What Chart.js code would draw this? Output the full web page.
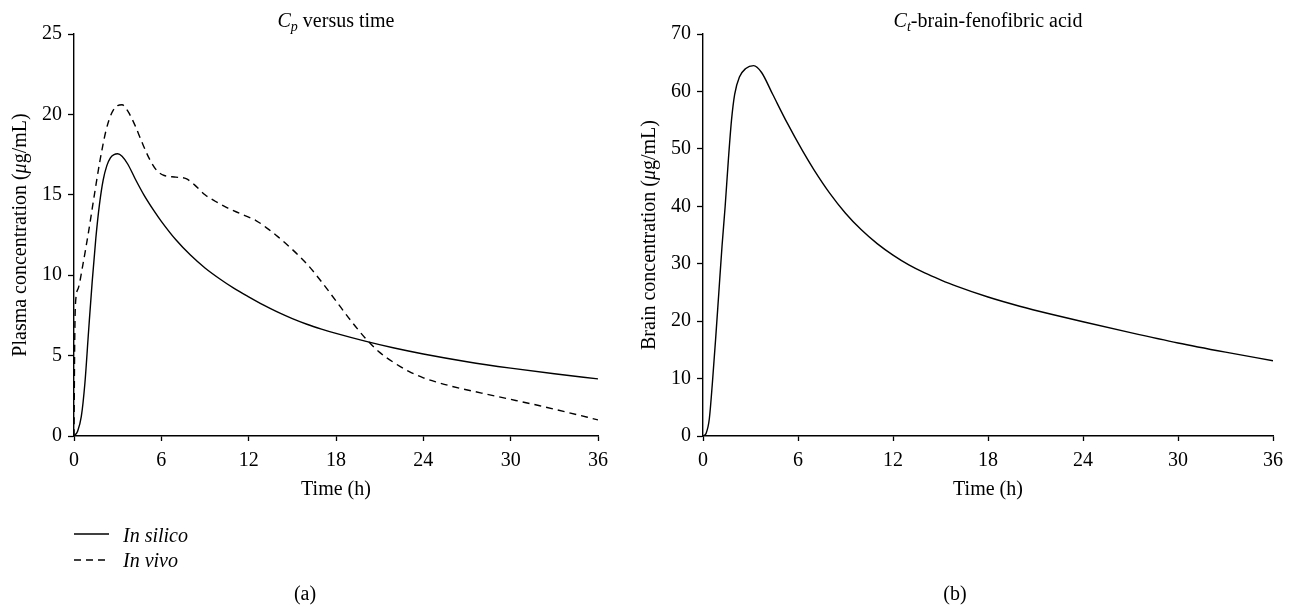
<!DOCTYPE html>
<html>
<head>
<meta charset="utf-8">
<script src="https://cdn.jsdelivr.net/npm/chart.js@4.4.1/dist/chart.umd.min.js"></script>
<style>
  html, body { margin:0; padding:0; background:#fff; }
  body { width:1297px; height:607px; position:relative; overflow:hidden; font-family:"Liberation Serif", serif; color:#000; }
  canvas { position:absolute; top:0; }
  .t { position:absolute; white-space:nowrap; font-size:20px; line-height:24px; transform:translate(-50%,-50%); }
  .rot { transform:translate(-50%,-50%) rotate(-90deg); }
  sub { font-size:70%; vertical-align:-0.3em; line-height:0; }
</style>
</head>
<body>
<canvas id="c1" width="630" height="607" style="left:0px"></canvas>
<canvas id="c2" width="667" height="607" style="left:630px"></canvas>

<div class="t" style="left:336px; top:20px;"><i>C</i><sub><i>p</i></sub> versus time</div>
<div class="t" style="left:988px; top:20px;"><i>C</i><sub><i>t</i></sub>-brain-fenofibric acid</div>
<div class="t rot" style="left:19px; top:235px;">Plasma concentration (<i>μ</i>g/mL)</div>
<div class="t rot" style="left:648px; top:235px;">Brain concentration (<i>μ</i>g/mL)</div>

<svg style="position:absolute; left:0; top:0;" width="200" height="607">
  <line x1="74" y1="534" x2="109" y2="534" stroke="#000" stroke-width="1.3"/>
  <line x1="74" y1="560" x2="109" y2="560" stroke="#000" stroke-width="1.3" stroke-dasharray="7,5"/>
</svg>
<div class="t" style="left:123px; top:535px; transform:translate(0,-50%);"><i>In silico</i></div>
<div class="t" style="left:123px; top:560px; transform:translate(0,-50%);"><i>In vivo</i></div>

<div class="t" style="left:305px; top:593px;">(a)</div>
<div class="t" style="left:955px; top:593px;">(b)</div>

<script>
// ---- data ----
const timeTicks = [0, 6, 12, 18, 24, 30, 36];
const plasmaTicks = [0, 5, 10, 15, 20, 25];
const brainTicks = [0, 10, 20, 30, 40, 50, 60, 70];

const silicoTime = [0, 0.25, 0.5, 0.75, 1.0, 1.25, 1.5, 1.75, 2.0, 2.25, 2.5, 2.75, 3.0, 3.3, 3.7, 4.2, 4.8, 5.5, 6.0, 7.0, 8.0, 9.0, 10.0, 11.0, 12.0, 13.0, 14.0, 15.0, 16.0, 17.0, 18.0, 20.0, 22.0, 24.0, 27.0, 30.0, 33.0, 36.0];
const silicoConc = [0, 0.3, 1.2, 3.3, 6.5, 9.6, 12.3, 14.4, 15.9, 16.8, 17.3, 17.5, 17.55, 17.4, 16.9, 16.0, 15.0, 14.0, 13.35, 12.2, 11.25, 10.45, 9.78, 9.18, 8.65, 8.15, 7.7, 7.3, 6.95, 6.65, 6.38, 5.9, 5.47, 5.1, 4.62, 4.22, 3.87, 3.55];

const vivoTime = [0, 0.05, 0.1, 0.3, 0.6, 1.0, 1.4, 1.8, 2.2, 2.6, 3.0, 3.3, 3.7, 4.2, 4.7, 5.2, 5.7, 6.2, 7.0, 7.7, 8.3, 9.0, 9.7, 10.5, 11.5, 12.5, 13.3, 14.0, 15.0, 16.0, 17.0, 18.0, 19.0, 20.0, 21.0, 22.0, 23.0, 24.0, 25.0, 26.0, 28.0, 30.0, 32.0, 34.0, 36.0];
const vivoConc = [0, 6.0, 8.2, 9.2, 10.6, 12.7, 15.0, 17.2, 19.0, 20.1, 20.55, 20.6, 20.2, 19.3, 18.2, 17.2, 16.5, 16.2, 16.1, 16.0, 15.6, 15.0, 14.6, 14.2, 13.8, 13.4, 12.9, 12.4, 11.6, 10.7, 9.6, 8.4, 7.2, 6.1, 5.2, 4.55, 4.02, 3.62, 3.33, 3.08, 2.67, 2.28, 1.88, 1.45, 1.0];

const brainTime = [0, 0.2, 0.4, 0.6, 0.8, 1.0, 1.2, 1.4, 1.6, 1.8, 2.0, 2.3, 2.7, 3.2, 3.7, 4.4, 5.3, 6.3, 7.0, 8.0, 9.0, 10.0, 11.0, 12.0, 13.0, 14.0, 15.0, 16.0, 18.0, 20.0, 22.0, 24.0, 27.0, 30.0, 33.0, 36.0];
const brainConc = [0, 0.5, 3.0, 9.5, 17.0, 25.0, 33.0, 40.0, 48.0, 55.0, 59.5, 62.5, 64.0, 64.5, 63.3, 59.5, 54.6, 49.6, 46.4, 42.3, 38.8, 35.9, 33.5, 31.5, 29.8, 28.4, 27.2, 26.1, 24.2, 22.6, 21.2, 19.9, 18.0, 16.2, 14.6, 13.1];

// ---- helpers ----
const pts = (xs, ys) => xs.map((x, i) => ({ x, y: ys[i] }));
const FONT = { family: "'Liberation Serif', serif", size: 20 };

function makeScales(yTicks, yWidth) {
  return {
    x: {
      type: 'linear', min: timeTicks[0], max: timeTicks[timeTicks.length - 1],
      afterBuildTicks: s => { s.ticks = timeTicks.map(v => ({ value: v })); },
      afterFit: s => { s.height = 74; },
      border: { display: true, color: '#000', width: 1.4 },
      grid: { display: true, drawOnChartArea: false, drawTicks: true, tickLength: 5, tickColor: '#000', tickWidth: 1.3 },
      ticks: { color: '#000', font: FONT, padding: 8, maxRotation: 0 },
      title: { display: true, text: 'Time (h)', color: '#000', font: FONT, padding: { top: 0, bottom: 8 } }
    },
    y: {
      type: 'linear', min: yTicks[0], max: yTicks[yTicks.length - 1],
      afterBuildTicks: s => { s.ticks = yTicks.map(v => ({ value: v })); },
      afterFit: s => { s.width = yWidth; },
      border: { display: true, color: '#000', width: 1.4 },
      grid: { display: true, drawOnChartArea: false, drawTicks: true, tickLength: 6, tickColor: '#000', tickWidth: 1.3 },
      ticks: { color: '#000', font: FONT, padding: 6 }
    }
  };
}

const common = {
  responsive: false, animation: false, devicePixelRatio: 1,
  plugins: { legend: { display: false }, tooltip: { enabled: false }, title: { display: false } },
  elements: { point: { radius: 0 }, line: { cubicInterpolationMode: 'monotone', borderWidth: 1.4, borderColor: '#000' } }
};

new Chart(document.getElementById('c1'), {
  type: 'line',
  data: { datasets: [
    { label: 'In silico', data: pts(silicoTime, silicoConc), borderColor: '#000', borderWidth: 1.4, fill: false },
    { label: 'In vivo', data: pts(vivoTime, vivoConc), borderColor: '#000', borderWidth: 1.4, borderDash: [7, 5], fill: false }
  ]},
  options: Object.assign({}, common, {
    layout: { padding: { left: 0, top: 34, right: 32, bottom: 97 } },
    scales: makeScales(plasmaTicks, 74)
  })
});

new Chart(document.getElementById('c2'), {
  type: 'line',
  data: { datasets: [
    { label: 'Brain', data: pts(brainTime, brainConc), borderColor: '#000', borderWidth: 1.4, fill: false }
  ]},
  options: Object.assign({}, common, {
    layout: { padding: { left: 0, top: 34, right: 24, bottom: 97 } },
    scales: makeScales(brainTicks, 73)
  })
});
</script>
</body>
</html>
